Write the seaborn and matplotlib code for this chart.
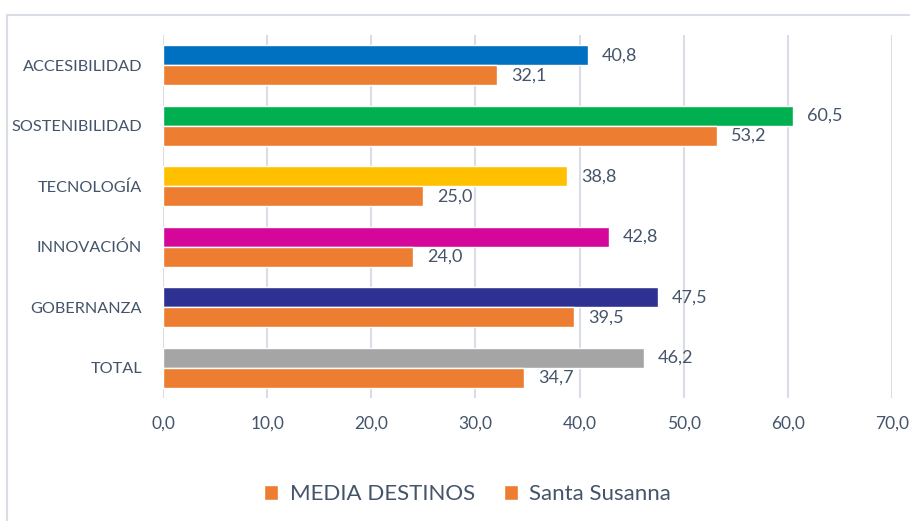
import matplotlib.pyplot as plt
import pandas as pd
import seaborn as sns
from matplotlib.patches import Rectangle

categories = ["ACCESIBILIDAD", "SOSTENIBILIDAD", "TECNOLOGÍA", "INNOVACIÓN", "GOBERNANZA", "TOTAL"]
media_destinos = [40.8, 60.5, 38.8, 42.8, 47.5, 46.2]
santa_susanna = [32.1, 53.2, 25.0, 24.0, 39.5, 34.7]
series_names = ["MEDIA DESTINOS", "Santa Susanna"]
xticks = [0, 10, 20, 30, 40, 50, 60, 70]

media_colors = ["#0070C0", "#00B050", "#FFC000", "#D5079B", "#2E3192", "#A5A5A5"]
orange = "#ED7D31"
text_color = "#44546A"
grid_color = "#D9DEE6"

df = pd.DataFrame({
    "categoria": categories * 2,
    "valor": media_destinos + santa_susanna,
    "serie": [series_names[0]] * len(categories) + [series_names[1]] * len(categories),
})

sns.set_style("white")
plt.rcParams["font.family"] = ["Lato", "DejaVu Sans"]

fig = plt.figure(figsize=(9.1, 5.21), dpi=100)
ax = fig.add_axes([163 / 910, 1 - 398 / 521, (892 - 163) / 910, (398 - 35) / 521])

sns.barplot(data=df, y="categoria", x="valor", hue="serie", orient="h",
            palette=[orange, orange], saturation=1, width=0.66, ax=ax, legend=True)

# first series gets one colour per category
for patch, col in zip(ax.containers[0], media_colors):
    patch.set_facecolor(col)

for cont in ax.containers:
    labels = [f"{v:.1f}".replace(".", ",") for v in cont.datavalues]
    ax.bar_label(cont, labels=labels, padding=10, fontsize=13, color=text_color)

ax.set_xlim(0, 70)
ax.set_ylim(5.5, -0.5)
ax.set_xticks(xticks)
ax.set_xticklabels([f"{t:.1f}".replace(".", ",") for t in xticks])
ax.set_xlabel("")
ax.set_ylabel("")
ax.xaxis.grid(True, color=grid_color, linewidth=1.5)
ax.set_axisbelow(True)
for s in ax.spines.values():
    s.set_visible(False)
ax.tick_params(axis="x", colors=text_color, labelsize=12.5, length=0, pad=13)
ax.tick_params(axis="y", colors=text_color, labelsize=11.7, length=0, pad=15)

leg = ax.legend(loc="center", bbox_to_anchor=(0.5 - 60 / 729, 1 - (494 - 35) / 363),
                bbox_transform=ax.transAxes, ncol=2, frameon=False,
                fontsize=16, handlelength=0.65, handleheight=0.65,
                columnspacing=1.3, handletextpad=0.5)
for t in leg.get_texts():
    t.set_color(text_color)

# chart area border (partly cut off)
fig.patches.append(Rectangle((7 / 910, -0.05), 1.1, 1 - 15 / 521 + 0.05,
                             transform=fig.transFigure, fill=False,
                             edgecolor=grid_color, linewidth=1.5))

fig.savefig("out.png", dpi=100)
